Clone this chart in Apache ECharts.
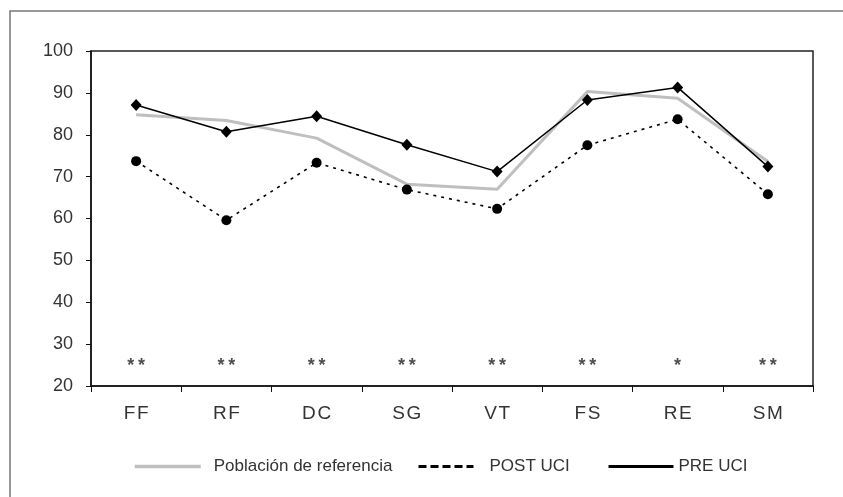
<!DOCTYPE html>
<html>
<head>
<meta charset="utf-8">
<script src="https://cdn.jsdelivr.net/npm/echarts@6/dist/echarts.min.js"></script>
<style>
html,body{margin:0;padding:0;background:#fff;}
#chart{width:843px;height:497px;}
</style>
</head>
<body>
<div id="chart"></div>
<script>
const categories = ['FF', 'RF', 'DC', 'SG', 'VT', 'FS', 'RE', 'SM'];
const refValues = [84.8, 83.4, 79.2, 68.2, 67.0, 90.3, 88.7, 73.6];
const postValues = [73.7, 59.6, 73.3, 66.9, 62.3, 77.5, 83.7, 65.8];
const preValues = [87.1, 80.7, 84.4, 77.6, 71.2, 88.3, 91.3, 72.4];
const signifMarks = ['**', '**', '**', '**', '**', '**', '*', '**'];
const signifLevel = 25.7;
const yTicks = [20, 30, 40, 50, 60, 70, 80, 90, 100];

const FONT = '"Liberation Sans", Arial, sans-serif';
const spaced = function (s) { return s.split('').join('\u200A'); };
const chart = echarts.init(document.getElementById('chart'), null, {renderer: 'canvas'});

const legendBase = {
  top: 458,
  padding: 0,
  orient: 'horizontal',
  itemHeight: 14,
  textStyle: {fontFamily: FONT, fontSize: 17, color: '#333'},
  itemStyle: {opacity: 0},
  selectedMode: false
};

chart.setOption({
  animation: false,
  backgroundColor: '#fff',
  graphic: [{
    type: 'rect',
    shape: {x: 10, y: 11, width: 900, height: 600},
    style: {fill: 'none', stroke: '#777', lineWidth: 1.5},
    silent: true,
    z: -10
  }],
  grid: {
    left: 91, top: 51, right: 30, bottom: 111,
    show: true, borderColor: '#222', borderWidth: 1.5, backgroundColor: 'transparent'
  },
  legend: [
    Object.assign({}, legendBase, {left: 133, itemWidth: 66, data: ['Población de referencia'],
      lineStyle: {width: 3.5},
      textStyle: Object.assign({}, legendBase.textStyle, {padding: [0, 0, 0, 8]})}),
    Object.assign({}, legendBase, {left: 417, itemWidth: 55, data: ['POST UCI'],
      lineStyle: {type: [8, 4], width: 3},
      textStyle: Object.assign({}, legendBase.textStyle, {padding: [0, 0, 0, 11]})}),
    Object.assign({}, legendBase, {left: 607, itemWidth: 65, data: ['PRE UCI'],
      lineStyle: {width: 3}})
  ],
  xAxis: {
    type: 'category',
    data: categories,
    boundaryGap: true,
    axisLine: {lineStyle: {color: '#111', width: 1.5}},
    axisTick: {show: true, length: 6, lineStyle: {color: '#111'}},
    axisLabel: {fontFamily: FONT, fontSize: 19, color: '#333', margin: 18,
      formatter: function (v) { return spaced(v); }}
  },
  yAxis: {
    type: 'value',
    min: yTicks[0], max: yTicks[yTicks.length - 1], interval: 10,
    splitLine: {show: false},
    axisLine: {show: true, lineStyle: {color: '#111', width: 1.5}},
    axisTick: {show: true, length: 5, lineStyle: {color: '#111'}},
    axisLabel: {fontFamily: FONT, fontSize: 18, color: '#333', margin: 18}
  },
  series: [
    {
      name: 'Población de referencia',
      type: 'line',
      data: refValues,
      symbol: 'none',
      lineStyle: {color: '#bfbfbf', width: 3},
      itemStyle: {color: '#bfbfbf'},
      z: 2
    },
    {
      name: 'POST UCI',
      type: 'line',
      data: postValues,
      symbol: 'circle',
      symbolSize: 10,
      lineStyle: {color: '#000', width: 1.6, type: [3, 5]},
      itemStyle: {color: '#000'},
      z: 3
    },
    {
      name: 'PRE UCI',
      type: 'line',
      data: preValues,
      symbol: 'diamond',
      symbolSize: [11, 12],
      lineStyle: {color: '#000', width: 1.5},
      itemStyle: {color: '#000'},
      z: 4
    },
    {
      name: 'signif',
      type: 'scatter',
      data: signifMarks.map(function (m, i) { return [categories[i], signifLevel]; }),
      symbolSize: 1,
      itemStyle: {color: 'transparent'},
      label: {
        show: true, position: 'inside', offset: [0, 4],
        formatter: function (p) { return signifMarks[p.dataIndex].split('').join('\u2009'); },
        fontFamily: FONT, fontSize: 18, fontWeight: 'bold', color: '#222'
      },
      silent: true,
      z: 5
    }
  ]
});
</script>
</body>
</html>
